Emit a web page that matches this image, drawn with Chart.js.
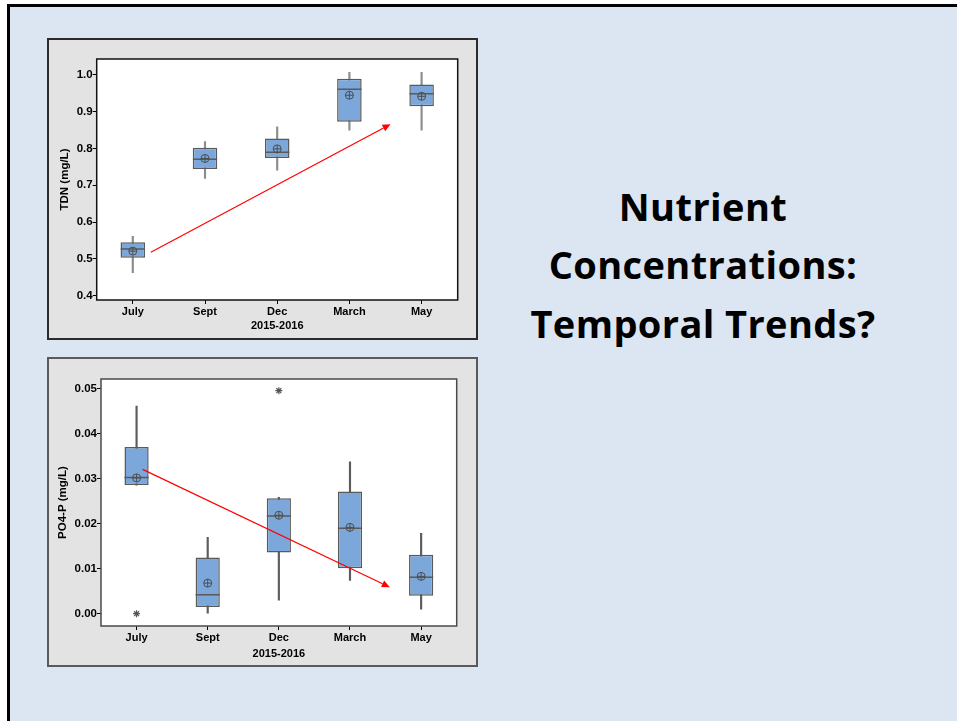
<!DOCTYPE html>
<html lang="en">
<head>
  <meta charset="UTF-8">
  <title>Nutrient Concentrations: Temporal Trends?</title>
  <script src="https://cdn.jsdelivr.net/npm/chart.js"></script>
  <style>
    html, body { margin: 0; padding: 0; background: #fff; }
    body { width: 957px; height: 721px; position: relative; overflow: hidden; }
    .slide {
      position: absolute; left: 7px; top: 4px; width: 980px; height: 740px;
      background: #dce6f2; border-left: 3px solid #000; border-top: 3px solid #000;
      box-sizing: border-box;
    }
    .panel { position: absolute; background: #e3e3e3; box-sizing: border-box; }
    #panelTdn { left: 47px; top: 38px; width: 431px; height: 302px; border: 2px solid #2b2b2b; }
    #panelPo4 { left: 47px; top: 357px; width: 431px; height: 310px; border: 2px solid #5a5a5a; }
    .panel canvas { position: absolute; left: 0; top: 0; }
    .title {
      position: absolute; left: 503px; top: 177px; width: 400px; text-align: center;
      font-family: "Open Sans", sans-serif; font-weight: 700; font-size: 38px; line-height: 58.3px;
      font-variant-ligatures: none; letter-spacing: 0.4px; color: #000;
    }
  </style>
</head>
<body>
  <div class="slide"></div>

  <!-- top chart: TDN -->
  <div class="panel" id="panelTdn">
    <canvas id="tdnChart" width="427" height="298" style="width:427px;height:298px"></canvas>
  </div>

  <!-- bottom chart: PO4-P -->
  <div class="panel" id="panelPo4">
    <canvas id="po4Chart" width="427" height="306" style="width:427px;height:306px"></canvas>
  </div>

  <div class="title">Nutrient<br>Concentrations:<br>Temporal Trends?</div>

  <script>
    // categories shared by both plots
    const months = ["July", "Sept", "Dec", "March", "May"];
    const xAxisTitle = "2015-2016";

    // TDN (mg/L) box plot values
    const tdnWhiskerLow  = [0.462, 0.719, 0.741, 0.850, 0.850];
    const tdnQ1          = [0.503, 0.744, 0.774, 0.873, 0.915];
    const tdnMedian      = [0.527, 0.771, 0.790, 0.961, 0.949];
    const tdnQ3          = [0.545, 0.802, 0.827, 0.990, 0.974];
    const tdnWhiskerHigh = [0.561, 0.819, 0.859, 1.007, 1.007];
    const tdnMean        = [0.521, 0.773, 0.799, 0.945, 0.942];
    const tdnOutliers    = [];
    const tdnTicks       = [0.4, 0.5, 0.6, 0.7, 0.8, 0.9, 1.0];
    const tdnTrend       = [{ x: 0.25, y: 0.518 }, { x: 3.57, y: 0.866 }];

    // PO4-P (mg/L) box plot values
    const po4WhiskerLow  = [0.0286, 0.0000, 0.0030, 0.0074, 0.0010];
    const po4Q1          = [0.0286, 0.0015, 0.0136, 0.0101, 0.0040];
    const po4Median      = [0.0303, 0.0042, 0.0217, 0.0190, 0.0081];
    const po4Q3          = [0.0371, 0.0125, 0.0257, 0.0272, 0.0131];
    const po4WhiskerHigh = [0.0462, 0.0170, 0.0259, 0.0338, 0.0179];
    const po4Mean        = [0.0302, 0.0068, 0.0219, 0.0192, 0.0083];
    const po4Outliers    = [{ x: "July", y: 0.0000 }, { x: "Dec", y: 0.0496 }];
    const po4Ticks       = [0.00, 0.01, 0.02, 0.03, 0.04, 0.05];
    const po4Trend       = [{ x: 0.085, y: 0.0321 }, { x: 3.56, y: 0.0059 }];

    const boxFill = "#7ba7da";
    const boxEdge = "#5a5a5a";
    const symbolColor = "#4e4e4e";

    // white plot area with a dark frame
    const plotFrame = {
      id: "plotFrame",
      beforeDraw(chart, args, opts) {
        const a = chart.chartArea;
        chart.ctx.save();
        chart.ctx.fillStyle = "#fff";
        chart.ctx.fillRect(a.left, a.top, a.right - a.left, a.bottom - a.top);
        chart.ctx.restore();
      },
      afterDraw(chart, args, opts) {
        const a = chart.chartArea;
        const ctx = chart.ctx;
        ctx.save();
        ctx.strokeStyle = opts.color;
        ctx.lineWidth = 1.5;
        ctx.strokeRect(a.left, a.top, a.right - a.left, a.bottom - a.top);
        ctx.restore();
      }
    };

    // red trend arrow, given in data units
    const trendArrow = {
      id: "trendArrow",
      afterDatasetsDraw(chart, args, opts) {
        const xs = chart.scales.x, ys = chart.scales.y;
        const x0 = xs.getPixelForValue(opts.points[0].x), y0 = ys.getPixelForValue(opts.points[0].y);
        const x1 = xs.getPixelForValue(opts.points[1].x), y1 = ys.getPixelForValue(opts.points[1].y);
        const ang = Math.atan2(y1 - y0, x1 - x0);
        const head = 8, half = 3.6;
        const ctx = chart.ctx;
        ctx.save();
        ctx.strokeStyle = "#ff0000";
        ctx.fillStyle = "#ff0000";
        ctx.lineWidth = 1.2;
        ctx.beginPath();
        ctx.moveTo(x0, y0);
        ctx.lineTo(x1 - head * Math.cos(ang), y1 - head * Math.sin(ang));
        ctx.stroke();
        ctx.beginPath();
        ctx.moveTo(x1, y1);
        ctx.lineTo(x1 - head * Math.cos(ang) + half * Math.sin(ang), y1 - head * Math.sin(ang) - half * Math.cos(ang));
        ctx.lineTo(x1 - head * Math.cos(ang) - half * Math.sin(ang), y1 - head * Math.sin(ang) + half * Math.cos(ang));
        ctx.closePath();
        ctx.fill();
        ctx.restore();
      }
    };

    function makeBoxChart(canvasId, s) {
      const labelFont = { family: "Liberation Sans", weight: "bold", size: 11 };
      return new Chart(document.getElementById(canvasId), {
        type: "bar",
        data: {
          labels: months,
          datasets: [
            {
              // whiskers
              type: "bar",
              data: months.map((m, i) => [s.low[i], s.high[i]]),
              backgroundColor: s.whiskerColor,
              borderWidth: 0,
              barThickness: 1.5,
              grouped: false,
              order: 4
            },
            {
              // boxes
              type: "bar",
              data: months.map((m, i) => [s.q1[i], s.q3[i]]),
              backgroundColor: boxFill,
              borderColor: boxEdge,
              borderWidth: 1.5,
              borderSkipped: false,
              barPercentage: 0.34,
              categoryPercentage: 1,
              grouped: false,
              order: 3
            },
            {
              // medians
              type: "line",
              data: s.median,
              showLine: false,
              pointStyle: "line",
              pointRadius: 12.1,
              pointBorderWidth: 1.5,
              pointBorderColor: boxEdge,
              order: 2
            },
            {
              // mean symbol: circle ...
              type: "line",
              data: s.mean,
              showLine: false,
              pointStyle: "circle",
              pointRadius: 4,
              pointBorderWidth: 1,
              pointBorderColor: symbolColor,
              pointBackgroundColor: "rgba(0,0,0,0)",
              order: 1
            },
            {
              // ... with a plus inside
              type: "line",
              data: s.mean,
              showLine: false,
              pointStyle: "cross",
              pointRadius: 4,
              pointBorderWidth: 1,
              pointBorderColor: symbolColor,
              order: 1
            },
            {
              // outliers
              type: "line",
              data: s.outliers,
              showLine: false,
              pointStyle: "star",
              pointRadius: 3.5,
              pointBorderWidth: 1.2,
              pointBorderColor: "#555",
              order: 0
            }
          ]
        },
        options: {
          responsive: false,
          animation: false,
          events: [],
          layout: { padding: s.padding },
          plugins: {
            legend: { display: false },
            tooltip: { enabled: false },
            plotFrame: { color: s.frameColor },
            trendArrow: { points: s.trend }
          },
          scales: {
            x: {
              type: "category",
              offset: true,
              border: { display: false },
              grid: { display: true, offset: false, drawOnChartArea: false, drawTicks: true, tickLength: 4, color: "#000" },
              ticks: { font: labelFont, color: "#000", padding: 1, maxRotation: 0 },
              title: { display: true, text: xAxisTitle, font: labelFont, color: "#000", padding: { top: 0, bottom: s.xTitlePad } },
              afterFit(scale) { scale.height = s.xHeight; }
            },
            y: {
              type: "linear",
              min: s.min,
              max: s.max,
              border: { display: false },
              grid: { display: true, drawOnChartArea: false, drawTicks: true, tickLength: 4, color: "#000" },
              ticks: {
                font: { family: "Liberation Sans", weight: "bold", size: 11.5 }, color: "#000", padding: 0,
                callback: (v) => Number(v).toFixed(s.decimals)
              },
              afterBuildTicks(scale) { scale.ticks = s.ticks.map((v) => ({ value: v })); },
              title: { display: true, text: s.yTitle, font: { family: "Liberation Sans", weight: "bold", size: 11.5 }, color: "#000", padding: { top: s.yTitlePad, bottom: 0 } },
              afterFit(scale) { scale.width = s.yWidth; }
            }
          }
        },
        plugins: [plotFrame, trendArrow]
      });
    }

    makeBoxChart("tdnChart", {
      low: tdnWhiskerLow, q1: tdnQ1, median: tdnMedian, q3: tdnQ3, high: tdnWhiskerHigh,
      mean: tdnMean, outliers: tdnOutliers, ticks: tdnTicks, trend: tdnTrend,
      min: 0.388, max: 1.0435, decimals: 1, yTitle: "TDN (mg/L)",
      whiskerColor: "#8c8c8c", frameColor: "#111",
      padding: { left: 0, top: 19, right: 18.3, bottom: 0 },
      yWidth: 47.7, xHeight: 38, yTitlePad: 9, xTitlePad: 5.4
    });

    makeBoxChart("po4Chart", {
      low: po4WhiskerLow, q1: po4Q1, median: po4Median, q3: po4Q3, high: po4WhiskerHigh,
      mean: po4Mean, outliers: po4Outliers, ticks: po4Ticks, trend: po4Trend,
      min: -0.00274, max: 0.0522, decimals: 2, yTitle: "PO4-P (mg/L)",
      whiskerColor: "#5c5c5c", frameColor: "#4a4a4a",
      padding: { left: 0, top: 20, right: 19.3, bottom: 0 },
      yWidth: 52, xHeight: 39, yTitlePad: 7.4, xTitlePad: 4.1
    });
  </script>
</body>
</html>
